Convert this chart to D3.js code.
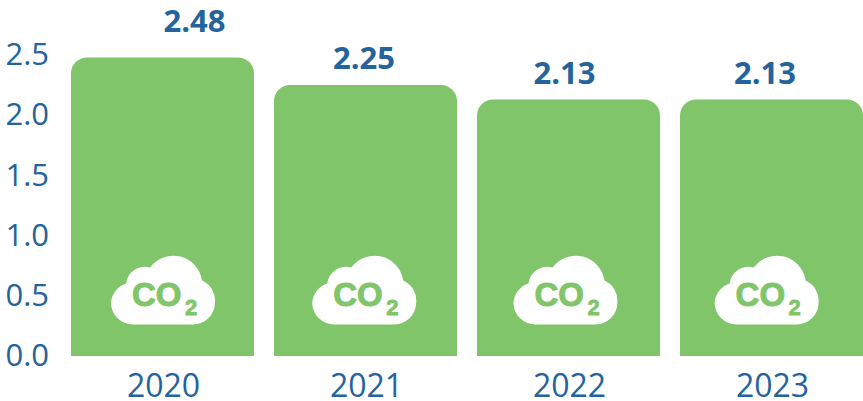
<!DOCTYPE html>
<html>
<head>
<meta charset="utf-8">
<script src="https://cdn.jsdelivr.net/npm/d3@7"></script>
<style>
	html, body { margin: 0; padding: 0; background: #fff; overflow: hidden; }
	svg { display: block; }
	.axis text { font-family: "Open Sans", "Noto Sans", sans-serif; fill: #24639b; }
	.axis path, .axis line { display: none; }
</style>
</head>
<body>
<div id="chart"></div>
<script>
var years = ["2020", "2021", "2022", "2023"];
var emissions = [2.48, 2.25, 2.13, 2.13];
var yTicks = [0, 0.5, 1, 1.5, 2, 2.5];

var width = 863, height = 401;
var green = "#81c56b", blue = "#24639b";
var svg = d3.select("#chart").append("svg").attr("width", width).attr("height", height);

var x = d3.scaleBand().domain(years).range([61, 873]).paddingInner(20/203).paddingOuter(10/203);
var y = d3.scaleLinear().domain([0, 2.5]).range([356, 55]);

// y axis
var yAxis = svg.append("g")
	.attr("class", "axis")
	.attr("transform", "translate(71,0)")
	.call(d3.axisLeft(y).tickValues(yTicks).tickFormat(d3.format(".1f")).tickSize(0).tickPadding(22));
yAxis.selectAll("text").style("font-size", "31px").attr("dy", "0.31em");

// x axis
var xAxis = svg.append("g")
	.attr("class", "axis")
	.attr("transform", "translate(0,356)")
	.call(d3.axisBottom(x).tickSize(0).tickPadding(0));
xAxis.selectAll("text").style("font-size", "32px").attr("x", 1).attr("y", 41).attr("dy", 0);

// bars, only the top corners are rounded
function barPath(d, i){
	var x0 = x(years[i]), w = x.bandwidth(), top = y(d), base = y(0), r = 16;
	return "M" + x0 + "," + base + "V" + (top + r)
		+ "A" + r + "," + r + " 0 0 1 " + (x0 + r) + "," + top
		+ "H" + (x0 + w - r)
		+ "A" + r + "," + r + " 0 0 1 " + (x0 + w) + "," + (top + r)
		+ "V" + base + "Z";
}
svg.selectAll("path.bar")
	.data(emissions)
	.enter().append("path")
	.attr("class", "bar")
	.attr("d", barPath)
	.style("fill", green);

// value labels sit a bit off centre in the original, first one most of all
function labelX(d, i){ return x(years[i]) + x.bandwidth()/2 + (i == 0 ? 32 : -1.5 - 2.5*(i-1)); }
function labelY(d, i){ return y(d) - (i == 0 ? 25 : 16); }
svg.selectAll("text.value")
	.data(emissions)
	.enter().append("text")
	.attr("class", "value")
	.attr("x", labelX)
	.attr("y", labelY)
	.attr("text-anchor", "middle")
	.style("font-family", '"Open Sans", "Noto Sans", sans-serif')
	.style("font-size", "31px")
	.style("font-weight", "bold")
	.style("fill", blue)
	.text(function(d){ return d.toFixed(2); });

// co2 cloud icon at the foot of each bar, icons are spaced a little tighter than the bars
var cloud = "M-30,0A22,22 0 0 1 -52,-22A22,22 0 0 1 -37,-41A19,19 0 0 1 -13,-57"
	+ "A29,29 0 0 1 39,-44A22,22 0 0 1 52,-22A22,22 0 0 1 30,0Z";
var icons = svg.selectAll("g.icon")
	.data(years)
	.enter().append("g")
	.attr("class", "icon")
	.attr("transform", function(d, i){ return "translate(" + (x(d) + x.bandwidth()/2 - 1.8*i + 0.5) + "," + (y(0) - 31.5) + ")"; });
icons.append("path").attr("d", cloud).style("fill", "#fff");
icons.append("text")
	.attr("x", -31).attr("y", -19)
	.style("font-family", '"Liberation Sans", Arial, sans-serif')
	.style("font-size", "33px")
	.style("font-weight", "bold")
	.style("fill", green)
	.style("stroke", green)
	.style("stroke-width", 1)
	.text("CO");
icons.append("text")
	.attr("x", 22).attr("y", -10)
	.style("font-family", '"Liberation Sans", Arial, sans-serif')
	.style("font-size", "22px")
	.style("font-weight", "bold")
	.style("fill", green)
	.style("stroke", green)
	.style("stroke-width", 0.8)
	.text("2");
</script>
</body>
</html>
